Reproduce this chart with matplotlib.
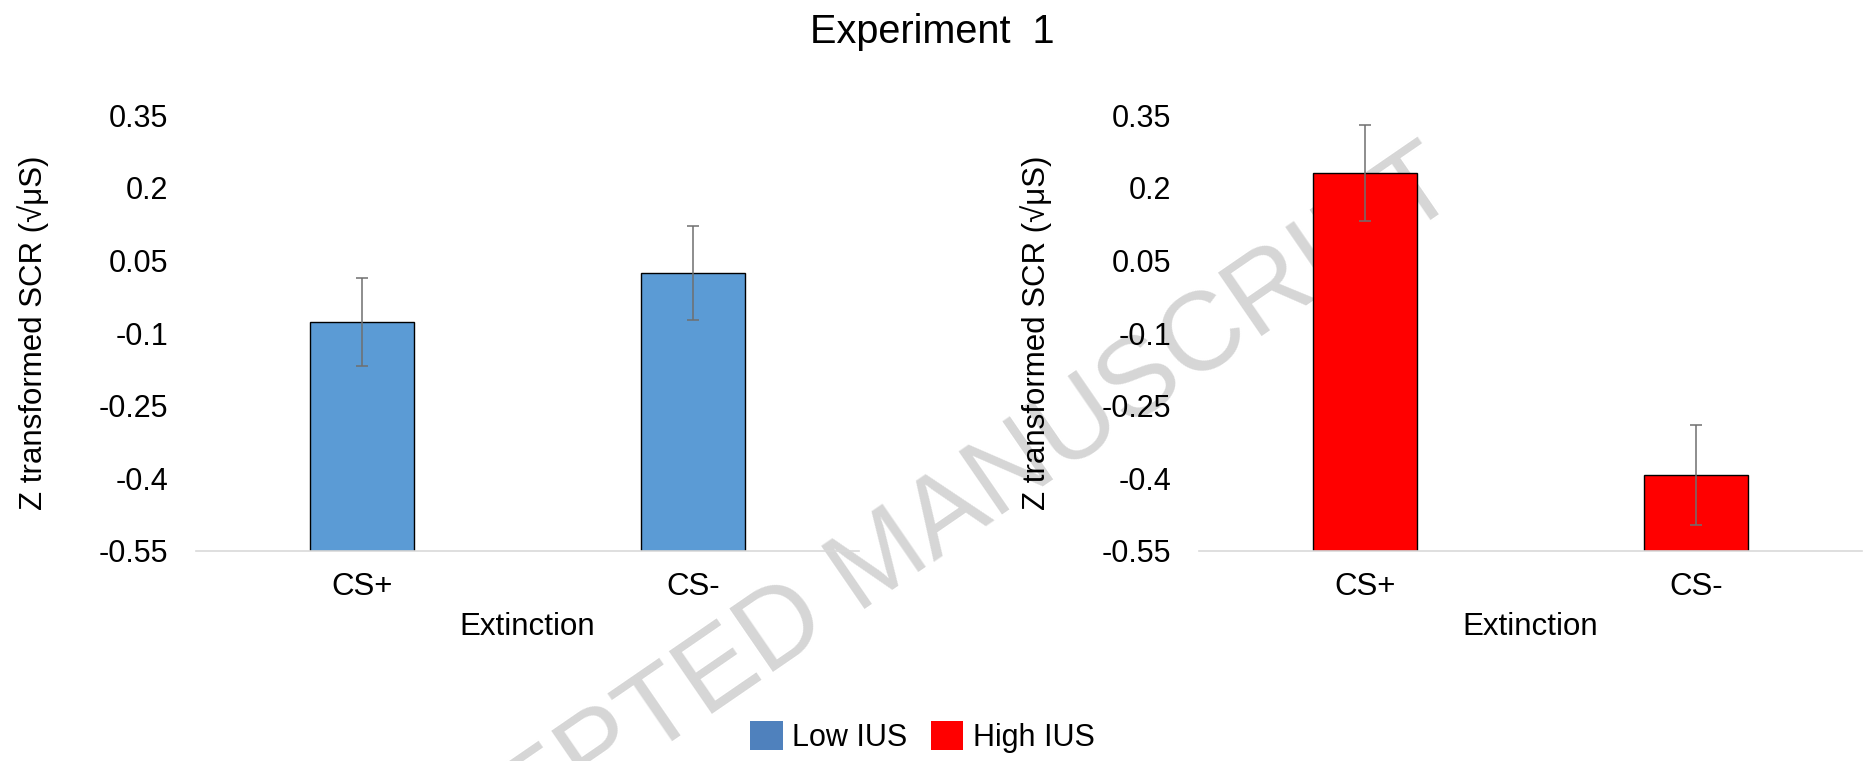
import matplotlib
matplotlib.use("Agg")
import matplotlib.pyplot as plt
from matplotlib.patches import Patch

plt.rcParams['font.family'] = ['Liberation Sans', 'DejaVu Sans']

# ---- data ----
categories = ["CS+", "CS-"]
low_ius = [-0.078, 0.023]
low_err = [0.091, 0.097]
high_ius = [0.231, -0.393]
high_err = [0.099, 0.104]
yticks = [0.35, 0.2, 0.05, -0.1, -0.25, -0.4, -0.55]
ytick_labels = ["0.35", "0.2", "0.05", "-0.1", "-0.25", "-0.4", "-0.55"]
series_names = ["Low IUS", "High IUS"]
title = "Experiment  1"
ylabel = "Z transformed SCR (\u221a\u03bcS)"
xlabel = "Extinction"

W, H = 1863, 761
fig = plt.figure(figsize=(W / 100, H / 100), dpi=100)

ymin, ymax = -0.55, 0.35
bar_colors = ["#5B9BD5", "#FF0000"]
legend_colors = ["#4F81BD", "#FF0000"]

def panel(left_px, vals, errs, color):
    ax = fig.add_axes([left_px / W, 1 - 551 / H, 663 / W, 436 / H])
    ax.set_facecolor('none')
    x = list(range(len(categories)))
    heights = [v - ymin for v in vals]
    ax.bar(x, heights, bottom=ymin, width=0.314, color=color,
           edgecolor='black', linewidth=1.0, zorder=2)
    ax.errorbar(x, vals, yerr=errs, fmt='none', ecolor='#6f6f6f',
                elinewidth=1.1, capsize=4.5, capthick=1.1, zorder=3)
    ax.set_xlim(-0.5, 1.5)
    ax.set_ylim(ymin, ymax)
    ax.set_xticks(x)
    ax.set_xticklabels(categories, fontsize=22.5)
    ax.set_yticks(yticks)
    ax.set_yticklabels(ytick_labels, fontsize=22)
    ax.tick_params(axis='both', length=0)
    ax.tick_params(axis='y', pad=20)
    ax.tick_params(axis='x', pad=15)
    for s in ['top', 'right', 'left']:
        ax.spines[s].set_visible(False)
    ax.spines['bottom'].set_color('#d9d9d9')
    ax.spines['bottom'].set_linewidth(1.2)
    ax.set_xlabel(xlabel, fontsize=22.5, labelpad=7)
    ax.set_ylabel(ylabel, fontsize=22.5)
    ax.yaxis.set_label_coords(-0.221, 0.5)
    return ax

ax1 = panel(196, low_ius, low_err, bar_colors[0])
ax2 = panel(1199, high_ius, high_err, bar_colors[1])

fig.text(932.5 / W, 1 - 43 / H, title, ha='center', va='baseline', fontsize=28.5)

handles = [Patch(facecolor=c, edgecolor='none') for c in legend_colors]
fig.legend(handles, series_names, loc='center', bbox_to_anchor=(922.5 / W, 1 - 737 / H),
           ncol=2, frameon=False, fontsize=22, handlelength=1.05, handleheight=1.05,
           handletextpad=0.3, columnspacing=0.8, borderpad=0.1)

fig.text(882 / W, 1 - 562 / H, "ACCEPTED MANUSCRIPT", rotation=34.5,
         rotation_mode='anchor', ha='center', va='center', fontsize=80,
         color='#d6d6d6', zorder=-1)

fig.savefig("out.png", dpi=100)
